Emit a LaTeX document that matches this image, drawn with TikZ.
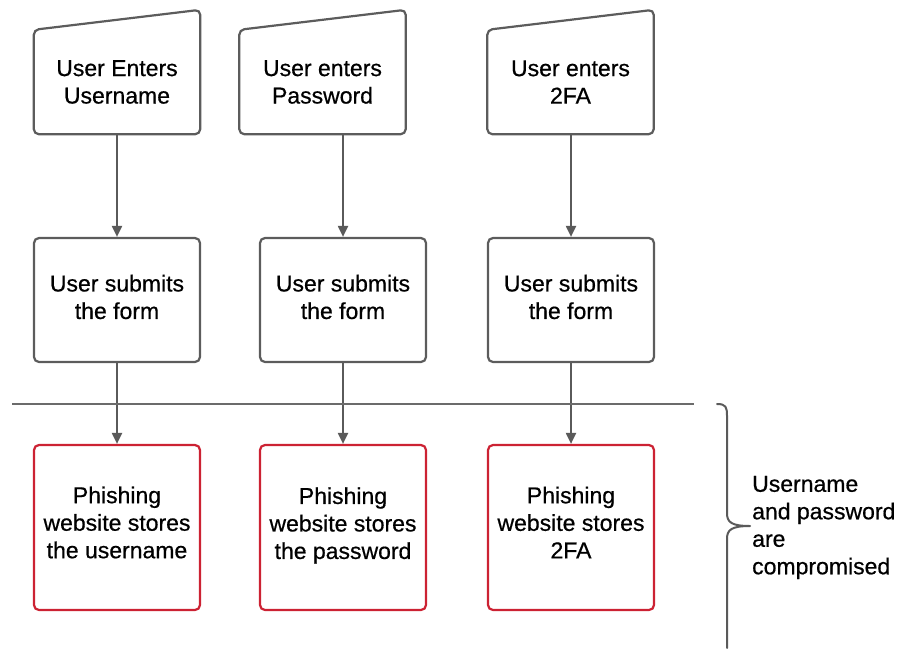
\documentclass[tikz,border=0pt]{standalone}
\usepackage{fontspec}
\setmainfont{Liberation Sans}[FakeBold=0.6]
\usetikzlibrary{arrows.meta,calc}
\definecolor{edge}{HTML}{5C5C5C}
\definecolor{wire}{HTML}{5A5A5A}
\definecolor{alert}{HTML}{CC2233}
\begin{document}
\begin{tikzpicture}[x=1pt,y=-1pt,
  txt/.style={align=center,font=\fontsize{23}{27.5}\selectfont,inner sep=0pt},
  inputbox/.style={minimum width=166pt,minimum height=104pt,inner sep=0pt},
  stepbox/.style={draw=edge,line width=2.2pt,rounded corners=5pt,minimum width=166pt,minimum height=124pt,inner sep=0pt},
  storebox/.style={draw=alert,line width=2.2pt,rounded corners=5pt,minimum width=166pt,minimum height=165pt,inner sep=0pt},
  conn/.style={draw=wire,line width=2pt,-{Triangle[length=11pt,width=10pt]}},
  divider/.style={draw=wire!90,line width=1.8pt},
  bracket/.style={draw=wire,line width=2pt,line cap=round}]
\useasboundingbox (0,0) rectangle (907,648);

% manual-input boxes (slanted top edge)
\node[inputbox] (in1) at (117,82)   {};
\node[inputbox] (in2) at (322.5,82) {};
\node[inputbox] (in3) at (570.5,82) {};
\foreach \n in {in1,in2,in3}
  \draw[edge,line width=2.2pt,rounded corners=5pt]
    (\n.south west) -- (\n.north west) -- ($(\n.north east)+(0,-20)$)
    -- (\n.south east) -- cycle;
\node[txt] (in1t) at (117,82)   {User Enters\\Username};
\node[txt] (in2t) at (322.5,82) {User enters\\Password};
\node[txt] (in3t) at (570.5,82) {User enters\\2FA};

% form submission
\node[stepbox] (sub1) at (117,300) {};
\node[stepbox] (sub2) at (343,300) {};
\node[stepbox] (sub3) at (571,300) {};
\foreach \i in {1,2,3}
  \node[txt] (sub\i t) at ($(sub\i.center)+(0,-3)$) {User submits\\the form};

% phishing storage
\node[storebox] (st1) at (117,527.5) {};
\node[storebox] (st2) at (343,527.5) {};
\node[storebox] (st3) at (571,527.5) {};
\node[txt] (st1t) at (117,522.5) {Phishing\\website stores\\the username};
\node[txt] (st2t) at (343,525.5) {Phishing\\website stores\\the password};
\node[txt] (st3t) at (571,522.5) {Phishing\\website stores\\2FA};

% connectors
\foreach \i in {1,2,3} {
  \draw[conn] (in\i.south -| sub\i.north) -- (sub\i.north);
  \draw[conn] (sub\i.south) -- (st\i.north);
}

% divider line
\coordinate (divL) at (12,404);
\coordinate (divR) at (694,404);
\draw[divider] (divL) -- (divR);

% brace and its label
\draw[bracket] (717,404) .. controls (726,404) and (727,407) .. (727,416)
  -- (727,513) .. controls (727,522) and (731,526) .. (750,526)
  (750,526) .. controls (731,526) and (727,530) .. (727,539) -- (727,648);
\node[txt,anchor=west,align=left] (note) at (752,527.5)
  {Username\\and password\\are\\compromised};
\end{tikzpicture}
\end{document}
